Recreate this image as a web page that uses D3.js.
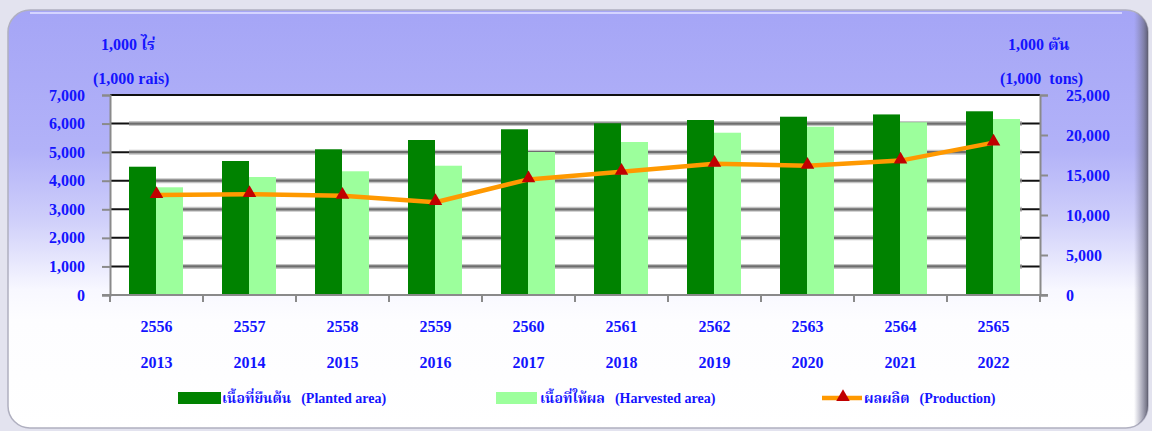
<!DOCTYPE html>
<html>
<head>
<meta charset="utf-8">
<script src="https://cdn.jsdelivr.net/npm/d3@7"></script>
<style>
  html, body { margin: 0; padding: 0; background: #e3e3ef; }
  svg { display: block; }
  text { font-family: "Liberation Serif", "Times New Roman", "Noto Serif Thai", "Noto Sans Thai", "Loma", "Garuda", serif; font-weight: bold; fill: #1414ff; }
</style>
</head>
<body>
<svg id="chart" width="1152" height="431"></svg>
<script>
// ---------- data ----------
const yearsBE = ["2556","2557","2558","2559","2560","2561","2562","2563","2564","2565"];
const yearsCE = ["2013","2014","2015","2016","2017","2018","2019","2020","2021","2022"];
const plantedArea   = [4490, 4690, 5100, 5425, 5800, 6010, 6125, 6240, 6320, 6430];
const harvestedArea = [3770, 4130, 4330, 4525, 5005, 5355, 5680, 5890, 6045, 6160];
const production    = [12500, 12600, 12400, 11600, 14450, 15400, 16400, 16150, 16800, 19050];
const leftTicks  = [0, 1000, 2000, 3000, 4000, 5000, 6000, 7000];
const rightTicks = [0, 5000, 10000, 15000, 20000, 25000];
const leftTitle  = ["1,000 ไร่", "(1,000 rais)"];
const rightTitle = ["1,000 ตัน", "(1,000  tons)"];
const legendThai = ["เนื้อที่ยืนต้น", "เนื้อที่ให้ผล", "ผลผลิต"];
const legendEng  = ["(Planted area)", "(Harvested area)", "(Production)"];

// ---------- layout ----------
const W = 1152, H = 431;
const plot = { left: 110, right: 1040, top: 95, bottom: 295 };
const cDark = "#008200", cLight = "#9cff9c", cLine = "#ff9900", cMark = "#c00000";

const svg = d3.select("#chart");
const defs = svg.append("defs");

// panel gradient
const g1 = defs.append("linearGradient").attr("id", "panelGrad")
  .attr("gradientUnits", "userSpaceOnUse").attr("x1", 0).attr("y1", 10).attr("x2", 0).attr("y2", 431);
[[10, "#a5a5f6"], [150, "#b2b2f8"], [220, "#cfcffa"], [290, "#f8f8ff"], [320, "#fdfdff"], [431, "#ffffff"]]
  .forEach(([y, c]) => g1.append("stop").attr("offset", (y - 10) / 421).attr("stop-color", c));
const g2 = defs.append("linearGradient").attr("id", "edgeGrad").attr("x1", 0).attr("x2", 1).attr("y1", 0).attr("y2", 0);
g2.append("stop").attr("offset", 0).attr("stop-color", "#8080a0").attr("stop-opacity", 0);
g2.append("stop").attr("offset", 0.6).attr("stop-color", "#707088").attr("stop-opacity", 0.7);
g2.append("stop").attr("offset", 1).attr("stop-color", "#4a4a58").attr("stop-opacity", 1);
const blur = defs.append("filter").attr("id", "soft").attr("x", "-10%").attr("y", "-10%").attr("width", "120%").attr("height", "120%");
blur.append("feGaussianBlur").attr("stdDeviation", 0.6);
const clip = defs.append("clipPath").attr("id", "panelClip");
clip.append("rect").attr("x", 8).attr("y", 10).attr("width", 1140).attr("height", 418).attr("rx", 22);

// background panel
svg.append("rect").attr("x", 0).attr("y", 0).attr("width", W).attr("height", H).attr("fill", "#e3e3ef");
svg.append("rect").attr("x", 8).attr("y", 10).attr("width", 1140).attr("height", 418).attr("rx", 22)
  .attr("fill", "url(#panelGrad)").attr("stroke", "#b0b0c0").attr("stroke-width", 1.5);
svg.append("g").attr("clip-path", "url(#panelClip)")
  .append("rect").attr("x", 1134).attr("y", 10).attr("width", 16).attr("height", 420).attr("fill", "url(#edgeGrad)");
svg.append("path").attr("d", "M30,13 H1122").attr("stroke", "#d4d4ff").attr("stroke-width", 2).attr("fill", "none");

// scales
const x = d3.scaleBand().domain(yearsBE).range([plot.left, plot.right]);
const x1 = d3.scaleBand().domain(["planted", "harvested"]).range([19, 73]);
const yL = d3.scaleLinear().domain([0, 7000]).range([plot.bottom, plot.top]);
const yR = d3.scaleLinear().domain([0, 25000]).range([plot.bottom, plot.top]);

// plot area
svg.append("rect").attr("x", plot.left).attr("y", plot.top).attr("width", plot.right - plot.left)
  .attr("height", plot.bottom - plot.top).attr("fill", "#ffffff");

// gridlines
const gridVals = leftTicks.filter(v => v > 0 && v < 7000);
const grid = svg.append("g");
grid.selectAll("line.blk").data(gridVals).join("line")
  .attr("x1", plot.left).attr("x2", plot.right).attr("y1", d => yL(d)).attr("y2", d => yL(d))
  .attr("stroke", "#111").attr("stroke-width", 2);
grid.selectAll("line.halo").data(gridVals).join("line")
  .attr("x1", plot.left + 19).attr("x2", plot.right - 18).attr("y1", d => yL(d)).attr("y2", d => yL(d))
  .attr("stroke", "#c4c4c4").attr("stroke-width", 5);
grid.selectAll("line.core").data(gridVals).join("line")
  .attr("x1", plot.left + 19).attr("x2", plot.right - 18).attr("y1", d => yL(d)).attr("y2", d => yL(d))
  .attr("stroke", "#6e6e6e").attr("stroke-width", 2.2);
svg.append("line").attr("x1", plot.left).attr("x2", plot.right).attr("y1", yL(7000)).attr("y2", yL(7000))
  .attr("stroke", "#111").attr("stroke-width", 2);

// bars
const barsG = svg.append("g").attr("filter", "url(#soft)");
yearsBE.forEach((yr, i) => {
  barsG.append("rect").attr("x", x(yr) + x1("planted")).attr("width", x1.bandwidth())
    .attr("y", yL(plantedArea[i])).attr("height", yL(0) - yL(plantedArea[i])).attr("fill", cDark);
  barsG.append("rect").attr("x", x(yr) + x1("harvested")).attr("width", x1.bandwidth())
    .attr("y", yL(harvestedArea[i])).attr("height", yL(0) - yL(harvestedArea[i])).attr("fill", cLight);
});

// axes
const axisColor = "#8a8a8a";
const axL = svg.append("g").attr("transform", `translate(${plot.left},0)`)
  .call(d3.axisLeft(yL).tickValues(leftTicks).tickSize(8).tickPadding(17).tickFormat(d3.format(",")));
const axR = svg.append("g").attr("transform", `translate(${plot.right},0)`)
  .call(d3.axisRight(yR).tickValues(rightTicks).tickSize(8).tickPadding(18).tickFormat(d3.format(",")));
[axL, axR].forEach(a => {
  a.select(".domain").attr("stroke", axisColor).attr("stroke-width", 2);
  a.selectAll(".tick line").attr("stroke", axisColor).attr("stroke-width", 2);
  a.selectAll(".tick text").style("font-size", "16px").attr("fill", "#1414ff");
});
[plot.left, plot.right].forEach(px => svg.append("line").attr("x1", px).attr("x2", px)
  .attr("y1", plot.bottom).attr("y2", plot.bottom + 7).attr("stroke", axisColor).attr("stroke-width", 2));
svg.append("line").attr("x1", plot.left - 8).attr("x2", plot.right + 8).attr("y1", plot.bottom).attr("y2", plot.bottom)
  .attr("stroke", axisColor).attr("stroke-width", 2);
svg.append("g").selectAll("line").data(yearsBE.slice(1)).join("line")
  .attr("x1", d => x(d)).attr("x2", d => x(d)).attr("y1", plot.bottom).attr("y2", plot.bottom + 7)
  .attr("stroke", axisColor).attr("stroke-width", 2);

// category labels (two rows)
const axB1 = svg.append("g").attr("transform", `translate(0,${plot.bottom})`)
  .call(d3.axisBottom(x).tickSize(0).tickPadding(26));
const axB2 = svg.append("g").attr("transform", `translate(0,${plot.bottom})`)
  .call(d3.axisBottom(x).tickSize(0).tickPadding(62).tickFormat((d, i) => yearsCE[i]));
[axB1, axB2].forEach(a => {
  a.select(".domain").remove();
  a.selectAll(".tick text").style("font-size", "16px").attr("fill", "#1414ff");
});

// production line
const line = d3.line().x((d, i) => x(yearsBE[i]) + x.bandwidth() / 2).y(d => yR(d));
svg.append("path").datum(production).attr("d", line).attr("fill", "none")
  .attr("stroke", cLine).attr("stroke-width", 4.5).attr("stroke-linejoin", "round");
const tri = d3.symbol().type(d3.symbolTriangle).size(80);
svg.append("g").selectAll("path").data(production).join("path")
  .attr("d", tri).attr("fill", cMark)
  .attr("transform", (d, i) => `translate(${x(yearsBE[i]) + x.bandwidth() / 2},${yR(d) - 1})`);

// axis titles
const tL = svg.append("g");
tL.append("text").attr("x", 101).attr("y", 50).style("font-size", "16px").text(leftTitle[0]);
tL.append("text").attr("x", 93).attr("y", 84).style("font-size", "16px").text(leftTitle[1]);
tL.append("text").attr("x", 1008).attr("y", 50).style("font-size", "16px").text(rightTitle[0]);
tL.append("text").attr("x", 1000).attr("y", 84).style("font-size", "16px").style("white-space", "pre").text(rightTitle[1]);

// legend
const lg = svg.append("g");
const legY = 398;
lg.append("rect").attr("x", 178).attr("y", 392).attr("width", 43).attr("height", 12).attr("fill", cDark).attr("filter", "url(#soft)");
lg.append("rect").attr("x", 496).attr("y", 392).attr("width", 41).attr("height", 12).attr("fill", cLight);
lg.append("line").attr("x1", 822).attr("x2", 862).attr("y1", legY).attr("y2", legY).attr("stroke", cLine).attr("stroke-width", 4.5);
lg.append("path").attr("d", tri).attr("fill", cMark).attr("transform", `translate(843,${legY - 1})`);
const thaiX = [222, 540, 864];
legendThai.forEach((t, i) => {
  const tx = lg.append("text").attr("x", thaiX[i]).attr("y", legY + 5).style("font-size", "14px");
  tx.append("tspan").text(t);
  tx.append("tspan").attr("dx", 10).text(legendEng[i]);
});
</script>
</body>
</html>
